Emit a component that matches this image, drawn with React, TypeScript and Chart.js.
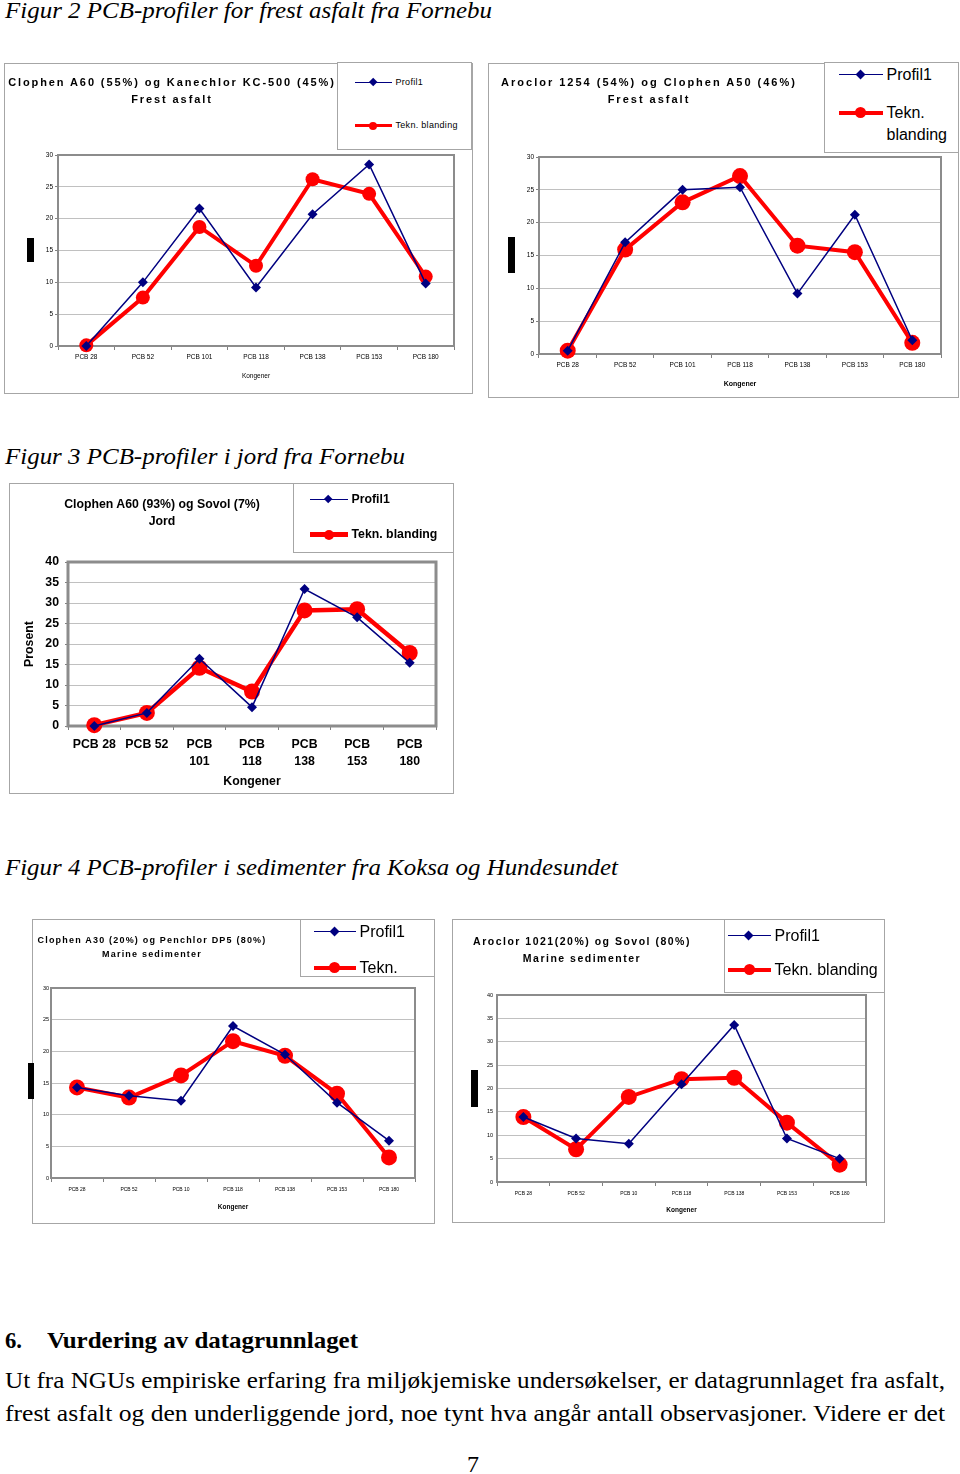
import React, { useEffect, useLayoutEffect, useRef } from "react";
import { Chart, registerables } from "chart.js";
Chart.register(...registerables);

// ---------- DATA ----------
const categories = ["PCB 28", "PCB 52", "PCB 101", "PCB 118", "PCB 138", "PCB 153", "PCB 180"];
const categoriesJord = ["PCB 28", "PCB 52", ["PCB", "101"], ["PCB", "118"], ["PCB", "138"], ["PCB", "153"], ["PCB", "180"]];
const categoriesSed = ["PCB 28", "PCB 52", "PCB 10", "PCB 118", "PCB 138", "PCB 153", "PCB 180"];

const seriesNames = ["Profil1", "Tekn. blanding"];

const fig2aProfil = [0, 10.0, 21.6, 9.2, 20.7, 28.5, 9.8];
const fig2aTekn = [0.1, 7.6, 18.7, 12.6, 26.2, 23.9, 10.9];
const fig2bProfil = [0.5, 17.0, 25.0, 25.4, 9.2, 21.2, 2.1];
const fig2bTekn = [0.5, 15.9, 23.1, 27.1, 16.5, 15.5, 1.7];
const fig3Profil = [0, 3.2, 16.4, 4.6, 33.4, 26.5, 15.4];
const fig3Tekn = [0.2, 3.2, 14.2, 8.4, 28.2, 28.5, 17.8];
const fig4aProfil = [14.3, 13.0, 12.2, 24.0, 19.5, 11.9, 5.9];
const fig4aTekn = [14.3, 12.7, 16.2, 21.6, 19.3, 13.3, 3.25];
const fig4bProfil = [13.9, 9.3, 8.2, 20.9, 33.6, 9.3, 5.0];
const fig4bTekn = [13.9, 7.0, 18.2, 22.0, 22.3, 12.7, 3.7];

const yMax30 = 30;
const yMax40 = 40;
const yStep = 5;

// ---------- STYLE ----------
const NAVY = "#000080";
const RED = "#ff0000";
const SANS = '"Liberation Sans", Arial, sans-serif';
const SERIF = '"Liberation Serif", "Times New Roman", serif';

type Spec = {
  box: number[];
  area: number[];
  labels: any[];
  profil: number[];
  tekn: number[];
  ymax: number;
  xFont: any;
  yFont: any;
  xTitleFont: any;
  yTickLen: number;
  yPad: number;
  xPad: number;
  xTitlePadBottom: number;
  yTitle?: { text: string; font: any; padTop: number };
  diamondR: number;
  circleR: number;
  redW: number;
  blueW: number;
  borderW: number;
};

const specs: Spec[] = [
  {
    box: [4, 63, 473, 394], area: [58, 155, 454, 346], labels: categories,
    profil: fig2aProfil, tekn: fig2aTekn, ymax: yMax30,
    xFont: { family: SANS, size: 6.5 }, yFont: { family: SANS, size: 6.5 },
    xTitleFont: { family: SANS, size: 6.5 }, yTickLen: 3, yPad: 2, xPad: 3, xTitlePadBottom: 14,
    diamondR: 5, circleR: 7, redW: 4, blueW: 1.5, borderW: 2,
  },
  {
    box: [488, 63, 959, 398], area: [539, 157, 941, 354], labels: categories,
    profil: fig2bProfil, tekn: fig2bTekn, ymax: yMax30,
    xFont: { family: SANS, size: 6.5 }, yFont: { family: SANS, size: 6.5 },
    xTitleFont: { family: SANS, size: 7, weight: "bold" }, yTickLen: 3, yPad: 2, xPad: 3, xTitlePadBottom: 9.8,
    diamondR: 5, circleR: 8, redW: 4, blueW: 1.5, borderW: 2,
  },
  {
    box: [9, 483, 454, 794], area: [68, 562, 436, 726], labels: categoriesJord,
    profil: fig3Profil, tekn: fig3Tekn, ymax: yMax40,
    xFont: { family: SANS, size: 12.3, weight: "bold", lineHeight: 1.38 },
    yFont: { family: SANS, size: 12.3, weight: "bold" },
    xTitleFont: { family: SANS, size: 12.3, weight: "bold" }, yTickLen: 3, yPad: 6, xPad: 6.5, xTitlePadBottom: 4.6,
    yTitle: { text: "Prosent", font: { family: SANS, size: 12.3, weight: "bold" }, padTop: 13.6 },
    diamondR: 5, circleR: 8, redW: 4.5, blueW: 1.5, borderW: 3,
  },
  {
    box: [32, 919, 435, 1224], area: [51, 988, 415, 1178], labels: categoriesSed,
    profil: fig4aProfil, tekn: fig4aTekn, ymax: yMax30,
    xFont: { family: SANS, size: 5 }, yFont: { family: SANS, size: 5.5 },
    xTitleFont: { family: SANS, size: 6.5, weight: "bold" }, yTickLen: 0, yPad: 2, xPad: 5, xTitlePadBottom: 13,
    diamondR: 5, circleR: 8, redW: 4, blueW: 1.5, borderW: 2,
  },
  {
    box: [452, 919, 885, 1223], area: [497, 995, 866, 1182], labels: categoriesSed,
    profil: fig4bProfil, tekn: fig4bTekn, ymax: yMax40,
    xFont: { family: SANS, size: 5 }, yFont: { family: SANS, size: 5.5 },
    xTitleFont: { family: SANS, size: 6.5, weight: "bold" }, yTickLen: 0, yPad: 4, xPad: 5, xTitlePadBottom: 9,
    diamondR: 5, circleR: 8, redW: 4, blueW: 1.5, borderW: 2,
  },
];

type TitleSpec = { cx: number; y1: number; y2: number; line1: string; line2: string; size: number; ls: number };
const titles: TitleSpec[] = [
  { cx: 172, y1: 82, y2: 99, line1: "Clophen A60 (55%) og Kanechlor KC-500 (45%)", line2: "Frest asfalt", size: 11, ls: 1.9 },
  { cx: 649, y1: 82, y2: 99, line1: "Aroclor 1254 (54%) og Clophen A50 (46%)", line2: "Frest asfalt", size: 11, ls: 2.0 },
  { cx: 162, y1: 504, y2: 521, line1: "Clophen A60 (93%) og Sovol (7%)", line2: "Jord", size: 12.3, ls: 0 },
  { cx: 152, y1: 940, y2: 954, line1: "Clophen A30 (20%) og Penchlor DP5 (80%)", line2: "Marine sedimenter", size: 9, ls: 1.2 },
  { cx: 582, y1: 941, y2: 958, line1: "Aroclor 1021(20%) og Sovol (80%)", line2: "Marine sedimenter", size: 10.5, ls: 1.5 },
];

type LegendSpec = {
  box: number[]; x0: number; x1: number; textX: number; rows: number[]; size: number; bold: boolean;
  ls: number; lineH: number; diamond: number; circle: number; redW: number; blueW: number; wrap: boolean;
};
const legends: LegendSpec[] = [
  { box: [337, 62, 472, 150], x0: 355, x1: 392, textX: 396, rows: [83, 126], size: 9, bold: false, ls: 0.3, lineH: 11, diamond: 9, circle: 8, redW: 3.5, blueW: 1.5, wrap: false },
  { box: [824, 62, 959, 153], x0: 839, x1: 883, textX: 887, rows: [75, 113], size: 16, bold: false, ls: 0, lineH: 22, diamond: 10, circle: 11, redW: 4, blueW: 1.5, wrap: true },
  { box: [293, 483, 454, 553], x0: 310, x1: 348, textX: 352, rows: [500, 535], size: 12.3, bold: true, ls: 0, lineH: 15, diamond: 9, circle: 10, redW: 4.5, blueW: 1.5, wrap: false },
  { box: [300, 919, 435, 977], x0: 314, x1: 356, textX: 360, rows: [932, 968], size: 16, bold: false, ls: 0, lineH: 22, diamond: 10, circle: 11, redW: 4, blueW: 1.5, wrap: true },
  { box: [724, 919, 885, 993], x0: 728, x1: 771, textX: 775, rows: [936, 970], size: 16, bold: false, ls: 0, lineH: 22, diamond: 10, circle: 11, redW: 4, blueW: 1.5, wrap: false },
];

const blackBars = [
  [27, 238, 34, 262],
  [508, 237, 515, 273],
  [28, 1063, 34, 1099],
  [471, 1070, 478, 1107],
];

const plotBorder = {
  id: "plotBorder",
  beforeDatasetsDraw(chart: any, _args: any, opts: any) {
    const { ctx, chartArea } = chart;
    ctx.save();
    ctx.strokeStyle = "#8c8c8c";
    ctx.lineWidth = opts.width || 2;
    ctx.strokeRect(chartArea.left, chartArea.top, chartArea.right - chartArea.left, chartArea.bottom - chartArea.top);
    ctx.restore();
  },
};

function PlotCanvas({ spec }: { spec: Spec }) {
  const ref = useRef<HTMLCanvasElement>(null);
  const [bl, bt, br, bb] = spec.box;
  const [al, at, ar, ab] = spec.area;
  useEffect(() => {
    const chart = new Chart(ref.current as HTMLCanvasElement, {
      type: "line",
      data: {
        labels: spec.labels,
        datasets: [
          {
            label: seriesNames[0], data: spec.profil, borderColor: NAVY, backgroundColor: NAVY,
            borderWidth: spec.blueW, pointStyle: "rectRot", pointRadius: spec.diamondR, pointBorderWidth: 0,
            tension: 0, clip: false as any,
          },
          {
            label: seriesNames[1], data: spec.tekn, borderColor: RED, backgroundColor: RED,
            borderWidth: spec.redW, pointStyle: "circle", pointRadius: spec.circleR, pointBorderWidth: 0,
            tension: 0, clip: false as any,
          },
        ],
      },
      options: {
        responsive: false,
        animation: false,
        devicePixelRatio: 1,
        layout: { padding: { top: at - bt, right: br - ar, bottom: 0, left: 0 } },
        plugins: {
          legend: { display: false },
          title: { display: false },
          tooltip: { enabled: false },
          plotBorder: { width: spec.borderW },
        } as any,
        scales: {
          x: {
            type: "category",
            offset: true,
            grid: { offset: true, drawOnChartArea: false, drawTicks: true, tickLength: 4, tickColor: "#808080", color: "#808080" },
            border: { display: false },
            ticks: { font: spec.xFont, color: "#000", padding: spec.xPad, maxRotation: 0, minRotation: 0, autoSkip: false },
            title: { display: true, text: "Kongener", font: spec.xTitleFont, color: "#000", padding: { top: 0, bottom: spec.xTitlePadBottom } },
            afterFit: (s: any) => { s.height = bb - ab; },
          },
          y: {
            min: 0,
            max: spec.ymax,
            ticks: { stepSize: yStep, font: spec.yFont, color: "#000", padding: spec.yPad },
            grid: { color: "#c0c0c0", lineWidth: 1, drawTicks: spec.yTickLen > 0, tickLength: spec.yTickLen, tickColor: "#808080" },
            border: { display: false },
            title: spec.yTitle
              ? { display: true, text: spec.yTitle.text, font: spec.yTitle.font, color: "#000", padding: { top: spec.yTitle.padTop, bottom: 0 } }
              : { display: false },
            afterFit: (s: any) => { s.width = al - bl; },
          },
        } as any,
      },
      plugins: [plotBorder],
    } as any);
    return () => chart.destroy();
  }, []);
  return (
    <>
      <canvas
        ref={ref}
        width={br - bl}
        height={bb - bt}
        style={{ position: "absolute", left: bl, top: bt, width: br - bl, height: bb - bt }}
      />
      <div
        style={{
          position: "absolute", left: bl, top: bt, width: br - bl, height: bb - bt,
          boxSizing: "border-box", border: "1.5px solid #a6a6a6", pointerEvents: "none",
        }}
      />
    </>
  );
}

function Title({ t }: { t: TitleSpec }) {
  const common: React.CSSProperties = {
    position: "absolute", left: t.cx - 250, width: 500, textAlign: "center", whiteSpace: "nowrap",
    fontFamily: SANS, fontWeight: "bold", fontSize: t.size, letterSpacing: t.ls, lineHeight: "16px", color: "#000",
  };
  return (
    <>
      <div style={{ ...common, top: t.y1 - 8 }}>{t.line1}</div>
      <div style={{ ...common, top: t.y2 - 8 }}>{t.line2}</div>
    </>
  );
}

function Legend({ l }: { l: LegendSpec }) {
  const [x0b, y0b, x1b, y1b] = l.box;
  const rel = (x: number) => x - x0b;
  const relY = (y: number) => y - y0b;
  const textStyle: React.CSSProperties = {
    position: "absolute", left: rel(l.textX), fontFamily: SANS, fontSize: l.size,
    fontWeight: l.bold ? "bold" : "normal", letterSpacing: l.ls, lineHeight: l.lineH + "px",
    whiteSpace: "pre", color: "#000",
  };
  const y1 = relY(l.rows[0]);
  const y2 = relY(l.rows[1]);
  const mid = (rel(l.x0) + rel(l.x1)) / 2;
  return (
    <div
      style={{
        position: "absolute", left: x0b, top: y0b, width: x1b - x0b, height: y1b - y0b,
        boxSizing: "border-box", border: "1.5px solid #a6a6a6", background: "#fff", overflow: "hidden",
      }}
    >
      <div style={{ position: "absolute", left: rel(l.x0) - 1.5, top: y1 - l.blueW / 2 - 1.5, width: rel(l.x1) - rel(l.x0), height: l.blueW, background: NAVY }} />
      <div
        style={{
          position: "absolute", left: mid - l.diamond / 2 - 1.5, top: y1 - l.diamond / 2 - 1.5,
          width: l.diamond, height: l.diamond, display: "flex", alignItems: "center", justifyContent: "center",
        }}
      >
        <div style={{ width: l.diamond * 0.707, height: l.diamond * 0.707, background: NAVY, transform: "rotate(45deg)" }} />
      </div>
      <div style={{ ...textStyle, left: rel(l.textX) - 1.5, top: y1 - l.lineH / 2 - 1.5 }}>{seriesNames[0]}</div>

      <div style={{ position: "absolute", left: rel(l.x0) - 1.5, top: y2 - l.redW / 2 - 1.5, width: rel(l.x1) - rel(l.x0), height: l.redW, background: RED }} />
      <div
        style={{
          position: "absolute", left: mid - l.circle / 2 - 1.5, top: y2 - l.circle / 2 - 1.5,
          width: l.circle, height: l.circle, borderRadius: "50%", background: RED,
        }}
      />
      <div style={{ ...textStyle, left: rel(l.textX) - 1.5, top: y2 - l.lineH / 2 - 1.5 }}>
        {l.wrap ? "Tekn.\nblanding" : seriesNames[1]}
      </div>
    </div>
  );
}

// Text line stretched horizontally to a target width (the page text is slightly wide)
function FitText({ left, top, width, style, children }: { left: number; top: number; width: number; style: React.CSSProperties; children: any }) {
  const ref = useRef<HTMLDivElement>(null);
  useLayoutEffect(() => {
    const el = ref.current;
    if (!el) return;
    el.style.transform = "none";
    const w = el.getBoundingClientRect().width;
    if (w > 0) el.style.transform = `scaleX(${width / w})`;
  }, []);
  return (
    <div
      ref={ref}
      style={{
        position: "absolute", left, top, whiteSpace: "nowrap", transformOrigin: "0 0", color: "#000",
        fontFamily: SERIF, fontSize: 24, lineHeight: "24px", ...style,
      }}
    >
      {children}
    </div>
  );
}

export default function App() {
  const italic: React.CSSProperties = { fontStyle: "italic" };
  const bold: React.CSSProperties = { fontWeight: "bold" };
  return (
    <div style={{ position: "absolute", left: 0, top: 0, width: 960, height: 1474, background: "#fff", overflow: "hidden" }}>
      <FitText left={5} top={-2} width={487} style={italic}>Figur 2 PCB-profiler for frest asfalt fra Fornebu</FitText>
      <FitText left={5} top={444} width={400} style={italic}>Figur 3 PCB-profiler i jord fra Fornebu</FitText>
      <FitText left={5} top={855} width={613} style={italic}>Figur 4 PCB-profiler i sedimenter fra Koksa og Hundesundet</FitText>

      {specs.map((s, i) => (
        <PlotCanvas key={"c" + i} spec={s} />
      ))}
      {titles.map((t, i) => (
        <Title key={"t" + i} t={t} />
      ))}
      {legends.map((l, i) => (
        <Legend key={"l" + i} l={l} />
      ))}
      {blackBars.map((b, i) => (
        <div key={"b" + i} style={{ position: "absolute", left: b[0], top: b[1], width: b[2] - b[0], height: b[3] - b[1], background: "#000" }} />
      ))}

      <FitText left={5} top={1328} width={17} style={bold}>6.</FitText>
      <FitText left={47} top={1328} width={311} style={bold}>Vurdering av datagrunnlaget</FitText>
      <FitText left={5} top={1368} width={940} style={{}}>
        Ut fra NGUs empiriske erfaring fra miljøkjemiske undersøkelser, er datagrunnlaget fra asfalt,
      </FitText>
      <FitText left={5} top={1401} width={940} style={{}}>
        frest asfalt og den underliggende jord, noe tynt hva angår antall observasjoner. Videre er det
      </FitText>
      <div style={{ position: "absolute", left: 467, top: 1452, fontFamily: SERIF, fontSize: 24, lineHeight: "24px" }}>7</div>
    </div>
  );
}
